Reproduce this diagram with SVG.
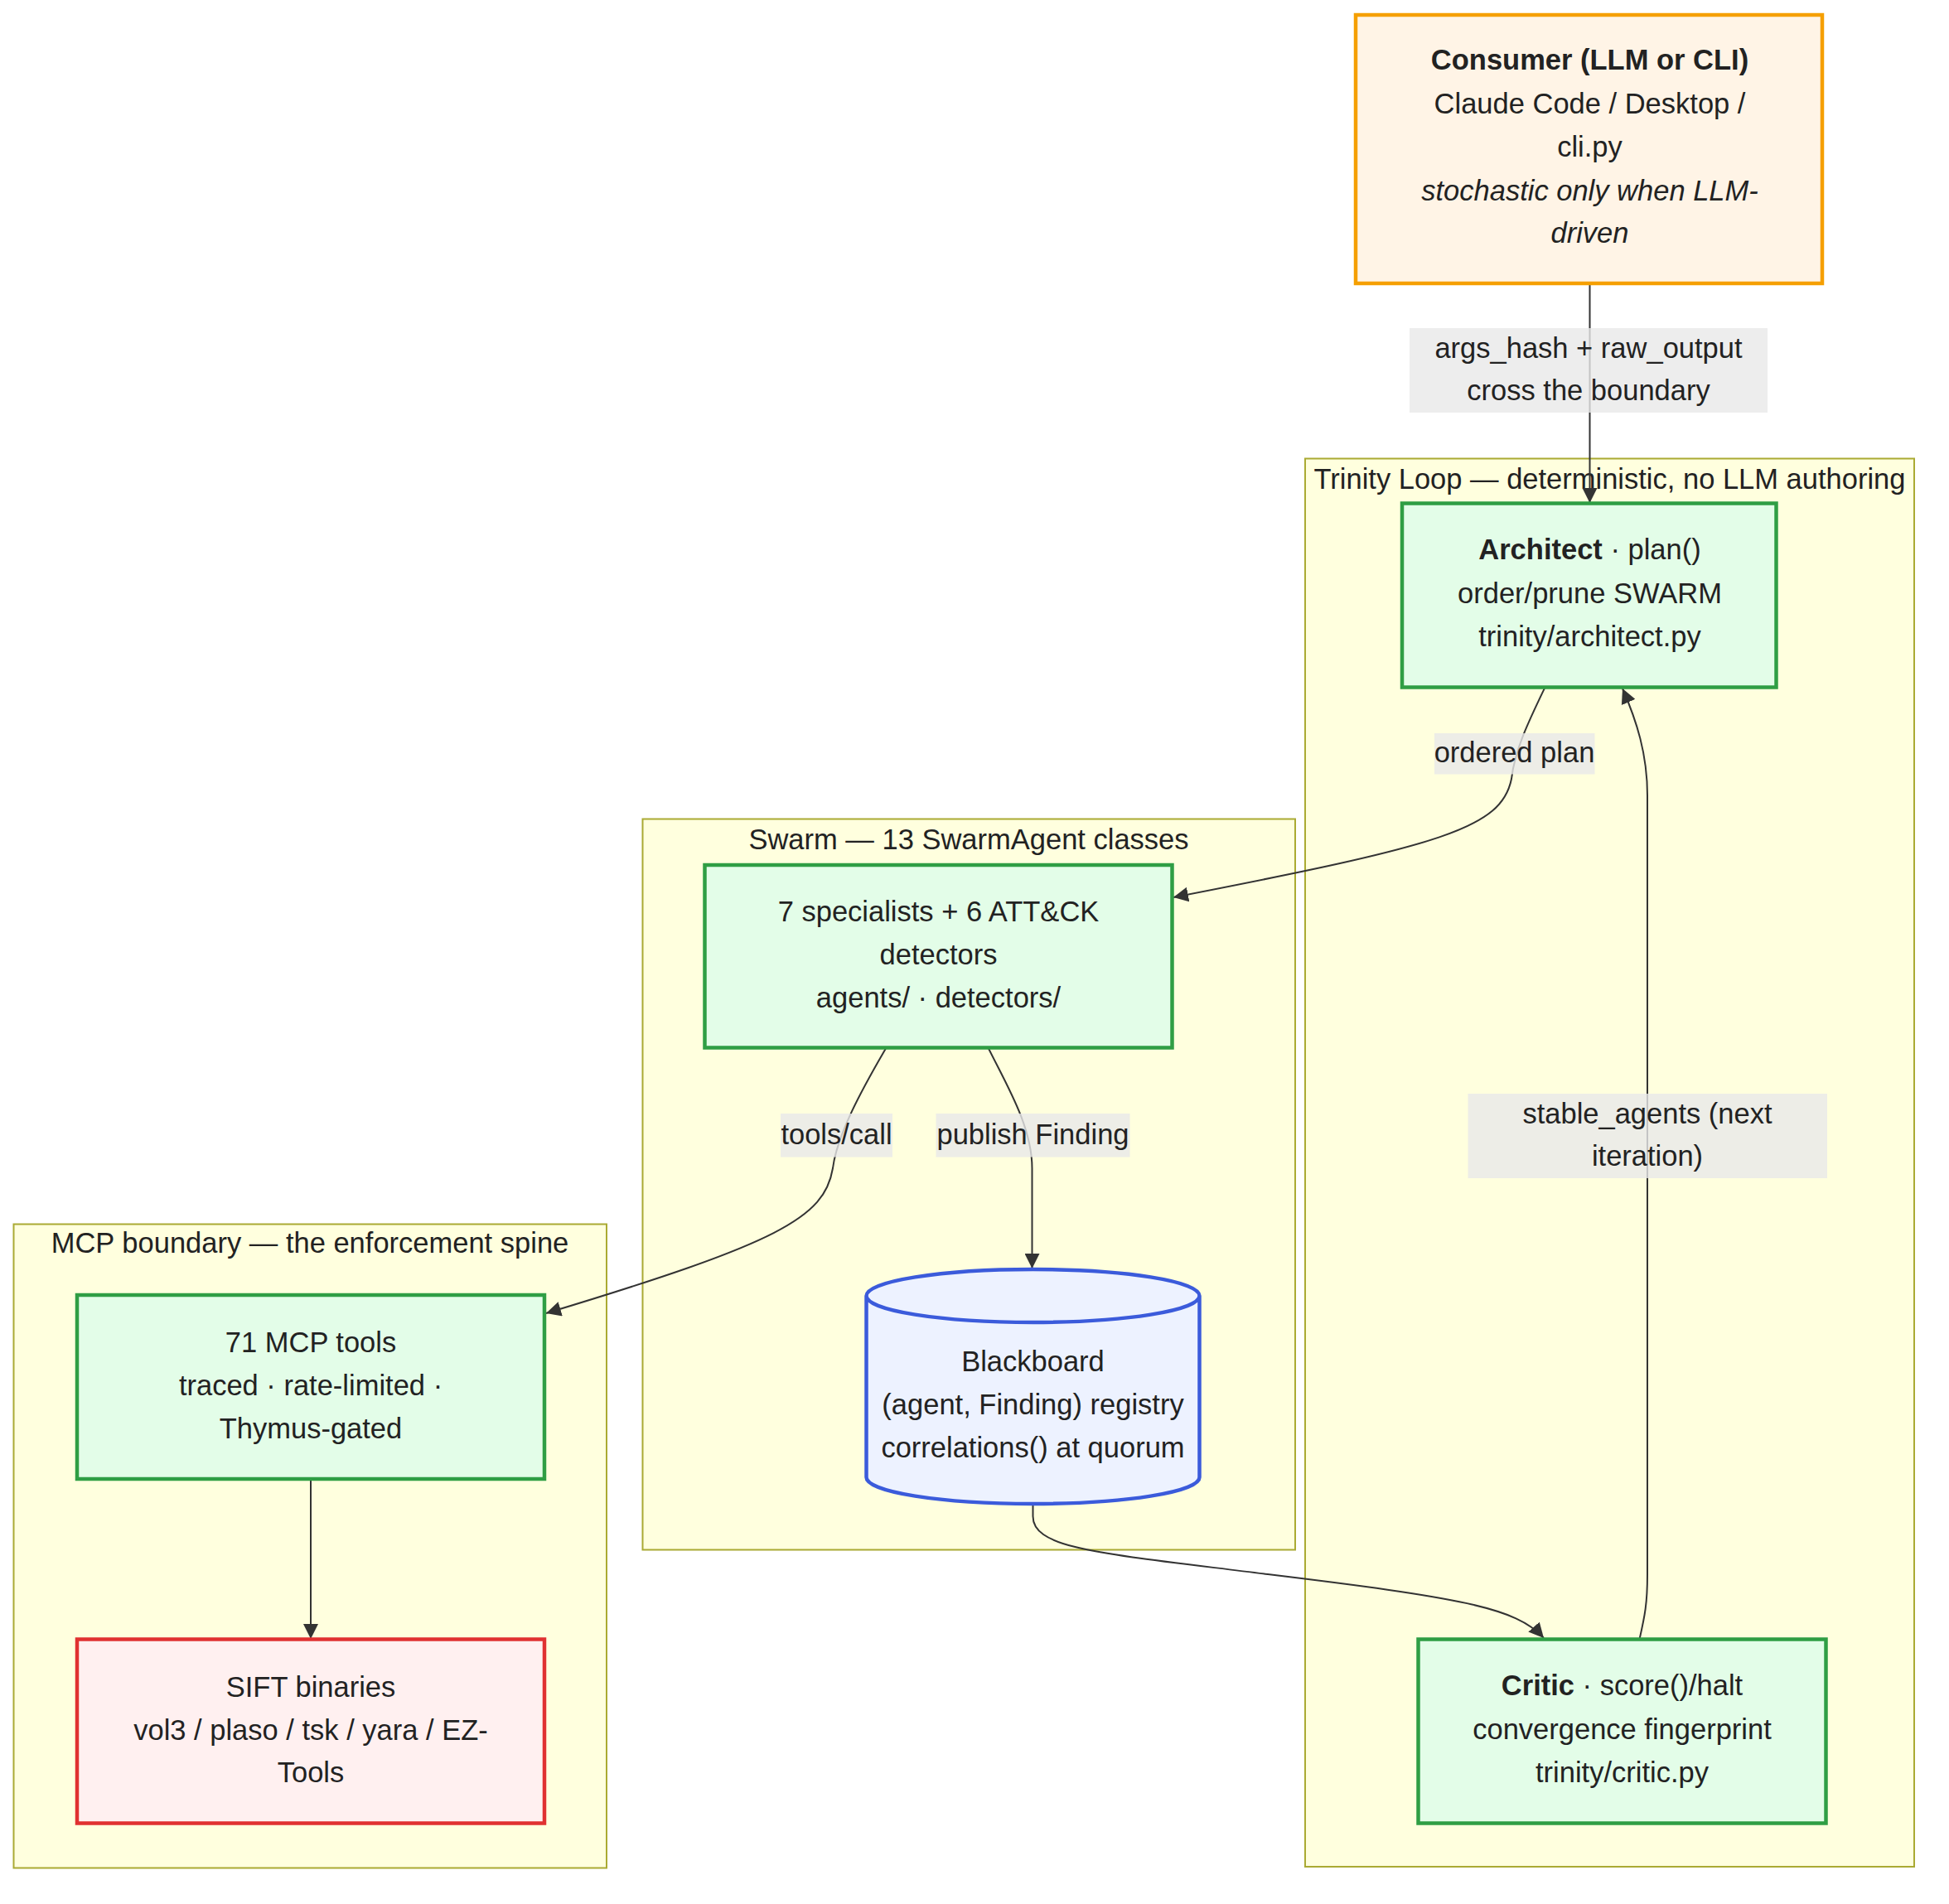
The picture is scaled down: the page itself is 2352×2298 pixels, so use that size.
<svg xmlns="http://www.w3.org/2000/svg" width="2352" height="2298" viewBox="0 0 2352 2298">
<style>
text{font-family:"Liberation Sans",Arial,sans-serif;font-size:34.5px;fill:#222;text-anchor:middle;dominant-baseline:central}
.b{font-weight:bold}
.i{font-style:italic}
.cluster{fill:#ffffde;stroke:#aaaa33;stroke-width:2}
.green{fill:#e3fde8;stroke:#2f9e44;stroke-width:4.5}
.orange{fill:#fff4e6;stroke:#f59f00;stroke-width:4.5}
.red{fill:#fff0f0;stroke:#e03131;stroke-width:4.5}
.db{fill:#edf2ff;stroke:#3b5bdb;stroke-width:4.5}
.edge{fill:none;stroke:#333;stroke-width:2}
.lbl{fill:rgba(232,232,232,0.8)}
</style>
<defs>
<marker id="arr" viewBox="0 0 10 10" refX="10" refY="5" markerUnits="userSpaceOnUse" markerWidth="18" markerHeight="18" orient="auto">
<path d="M0,0 L10,5 L0,10 z" fill="#333"/>
</marker>
</defs>
<rect width="2352" height="2298" fill="#ffffff"/>
<g id="clusters">
<g id="cluster-trinity"><rect class="cluster" x="1575" y="553.5" width="735" height="1699.5"/><text x="1942.5" y="577.5">Trinity Loop — deterministic, no LLM authoring</text></g>
<g id="cluster-swarm"><rect class="cluster" x="775.5" y="988.5" width="787.5" height="882"/><text x="1169" y="1012.5">Swarm — 13 SwarmAgent classes</text></g>
<g id="cluster-mcp"><rect class="cluster" x="16.5" y="1477.5" width="715.5" height="777"/><text x="374" y="1500">MCP boundary — the enforcement spine</text></g>
</g>
<g id="connectors">
<path class="edge" d="M1918.5,342 L1918.5,607" marker-end="url(#arr)"/>
<path class="edge" d="M1864.5,829.5 C1845,870 1828,905 1824,940 C1812,1000 1740,1020 1416,1083" marker-end="url(#arr)"/>
<path class="edge" d="M1069.5,1264.5 C1040,1315 1010,1370 1005,1410 C995,1470 940,1500 659,1585" marker-end="url(#arr)"/>
<path class="edge" d="M1192.5,1264.5 C1215,1310 1245.5,1360 1245.5,1410 L1245.5,1531" marker-end="url(#arr)"/>
<path class="edge" d="M1246.5,1815 L1246.5,1830 C1246.5,1870 1330,1875 1530,1900 C1760,1928 1830,1940 1863,1977" marker-end="url(#arr)"/>
<path class="edge" d="M1978.5,1978.5 C1985,1950 1988,1935 1988,1900 L1988,960 C1988,910 1975,870 1958,831" marker-end="url(#arr)"/>
<path class="edge" d="M375,1785 L375,1978" marker-end="url(#arr)"/>
<g id="edge-labels">
<rect class="lbl" x="1701" y="396" width="432" height="102"/>
<text x="1917" y="420">args_hash + raw_output</text>
<text x="1917" y="471">cross the boundary</text>
<rect class="lbl" x="1731" y="885" width="193.5" height="49.5"/>
<text x="1827.5" y="908">ordered plan</text>
<rect class="lbl" x="942" y="1344" width="135" height="52.5"/>
<text x="1009.5" y="1369">tools/call</text>
<rect class="lbl" x="1129.5" y="1344" width="234" height="52.5"/>
<text x="1246.5" y="1369">publish Finding</text>
<rect class="lbl" x="1771.5" y="1320" width="433.5" height="102"/>
<text x="1988" y="1344">stable_agents (next</text>
<text x="1988" y="1395">iteration)</text>
</g>
</g>
<g id="consumer">
<rect class="orange" x="1636" y="18" width="563" height="324"/>
<text x="1918.5" y="72" class="b">Consumer (LLM or CLI)</text>
<text x="1918.5" y="124.5">Claude Code / Desktop /</text>
<text x="1918.5" y="177">cli.py</text>
<text x="1918.5" y="229.5" class="i">stochastic only when LLM-</text>
<text x="1918.5" y="281" class="i">driven</text>
</g>
<g id="architect">
<rect class="green" x="1692" y="607.5" width="451.5" height="222"/>
<text x="1918.5" y="663"><tspan class="b">Architect</tspan> · plan()</text>
<text x="1918.5" y="715.5">order/prune SWARM</text>
<text x="1918.5" y="768">trinity/architect.py</text>
</g>
<g id="critic">
<rect class="green" x="1711.5" y="1978.5" width="492" height="222"/>
<text x="1957.5" y="2034"><tspan class="b">Critic</tspan> · score()/halt</text>
<text x="1957.5" y="2086.5">convergence fingerprint</text>
<text x="1957.5" y="2139">trinity/critic.py</text>
</g>
<g id="swarm">
<rect class="green" x="850.5" y="1044" width="564" height="220.5"/>
<text x="1132.5" y="1099.5">7 specialists + 6 ATT&amp;CK</text>
<text x="1132.5" y="1152">detectors</text>
<text x="1132.5" y="1203.5">agents/ · detectors/</text>
</g>
<g id="blackboard">
<path class="db" d="M1045.5,1564 A201,32 0 0,0 1447.5,1564 A201,32 0 0,0 1045.5,1564 L1045.5,1783 A201,32 0 0,0 1447.5,1783 L1447.5,1564"/>
<text x="1246.5" y="1643">Blackboard</text>
<text x="1246.5" y="1695">(agent, Finding) registry</text>
<text x="1246.5" y="1747">correlations() at quorum</text>
</g>
<g id="mcp-tools">
<rect class="green" x="93" y="1563" width="564" height="222"/>
<text x="375" y="1620">71 MCP tools</text>
<text x="375" y="1671.5">traced · rate-limited ·</text>
<text x="375" y="1723.5">Thymus-gated</text>
</g>
<g id="sift">
<rect class="red" x="93" y="1978.5" width="564" height="222"/>
<text x="375" y="2035.5">SIFT binaries</text>
<text x="375" y="2088">vol3 / plaso / tsk / yara / EZ-</text>
<text x="375" y="2139">Tools</text>
</g>
</svg>
